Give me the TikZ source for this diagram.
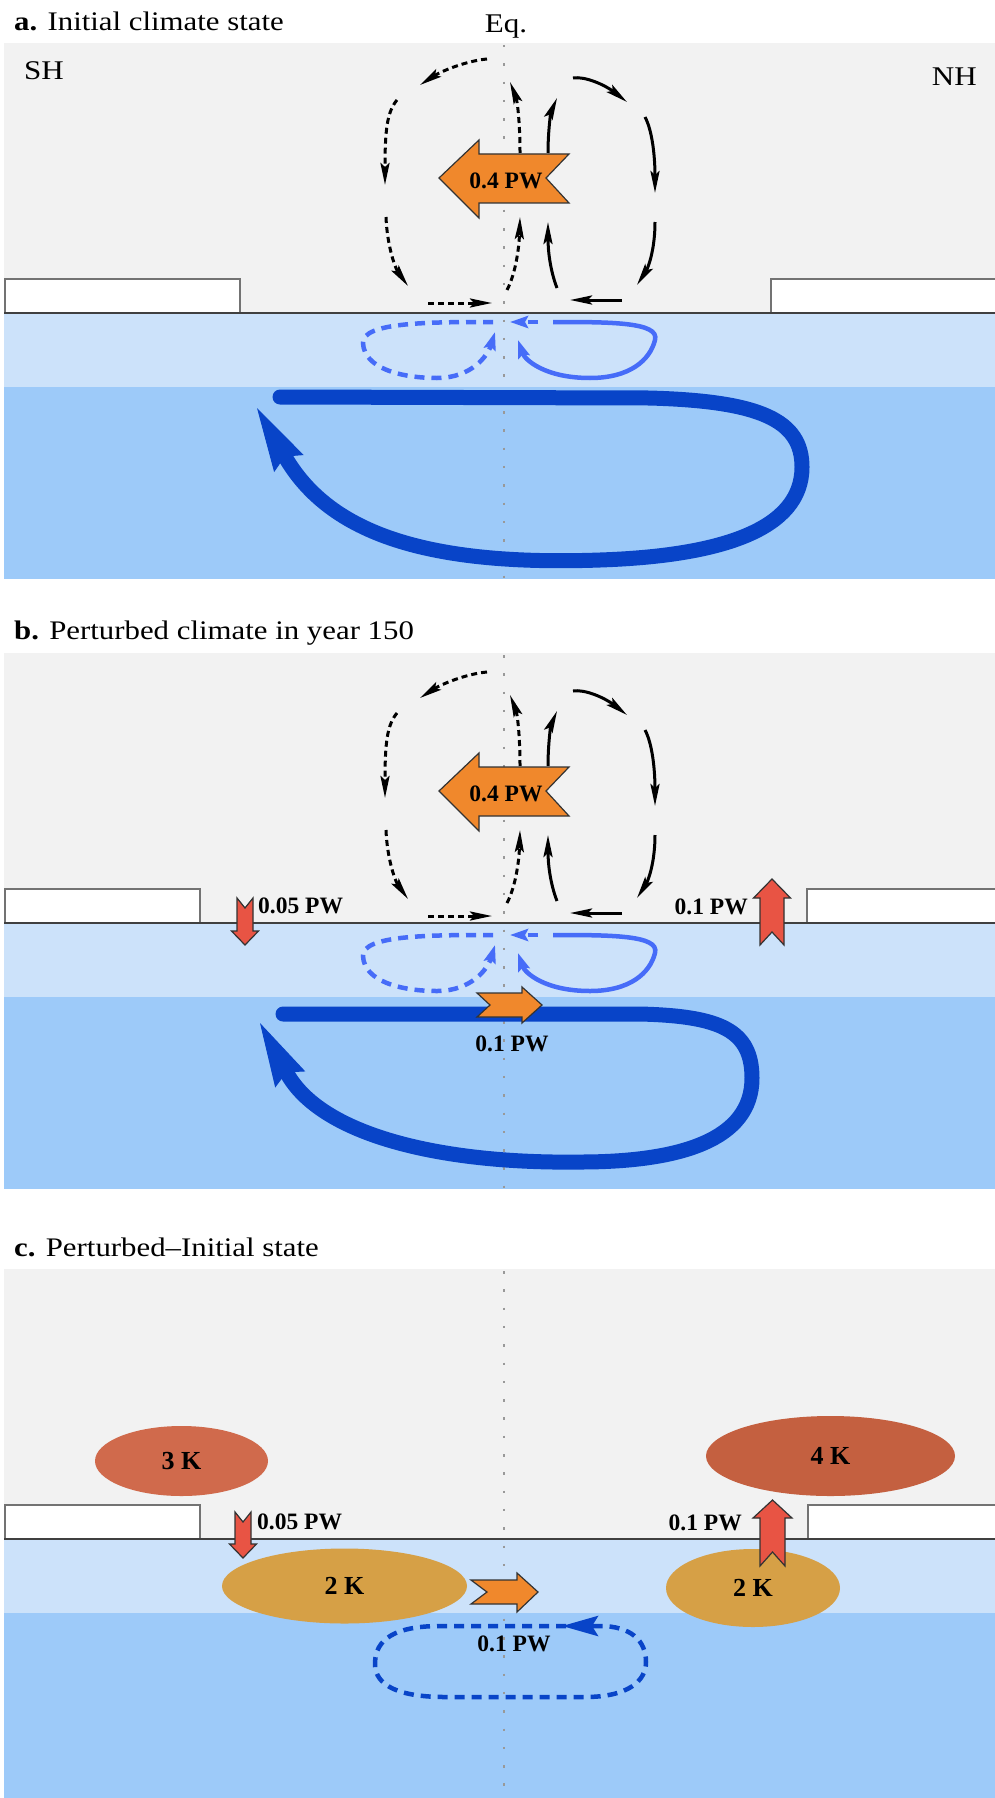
\documentclass[tikz,border=0pt]{standalone}
\usepackage{fontspec}
\setmainfont{Liberation Serif}
\newfontfamily\widefont{Liberation Serif}[FakeStretch=1.15]
\usetikzlibrary{arrows.meta,shapes.geometric}

\definecolor{atmosgray}{HTML}{F2F2F2}
\definecolor{upperocean}{HTML}{CCE2FA}
\definecolor{deepocean}{HTML}{9DCAF9}
\definecolor{amocblue}{HTML}{0844C8}
\definecolor{stcblue}{HTML}{466CF8}
\definecolor{heatorange}{HTML}{F0882C}
\definecolor{fluxred}{HTML}{E85444}
\definecolor{warmthree}{HTML}{D06A4C}
\definecolor{warmfour}{HTML}{C46040}
\definecolor{warmtwo}{HTML}{D6A046}

\begin{document}
\begin{tikzpicture}[x=1pt, y=-1pt,
  hdr/.style={anchor=base west, inner sep=0pt, font=\widefont\fontsize{26.8}{30}\selectfont},
  geo/.style={inner sep=0pt, font=\widefont\fontsize{27}{31}\selectfont},
  pwlabel/.style={inner sep=0pt, font=\fontsize{23.5}{27}\selectfont\bfseries},
  blob/.style={ellipse, inner sep=0pt, font=\fontsize{26}{30}\selectfont\bfseries},
  cellsolid/.style={line width=3pt, -{Stealth[length=22pt,width=9pt,inset=4pt]}},
  celldash/.style={cellsolid, dash pattern=on 6pt off 4pt},
  stcsolid/.style={draw=stcblue, line width=4.5pt, -{Stealth[length=18pt,width=12pt,inset=3pt]}},
  stcdash/.style={stcsolid, dash pattern=on 10pt off 7pt},
  amoc/.style={draw=amocblue, line width=15pt, line cap=round,
    -{Stealth[length=64pt,width=34pt,inset=8pt,line width=1pt]}},
  fluxarrow/.style={draw=black!80, line width=1.2pt, line join=miter},
  eqline/.style={draw=black!40, line width=2.5pt, dash pattern=on 2.5pt off 15.8pt}]
  \useasboundingbox (0,0) rectangle (995,1798);
  \foreach \py/\lw/\rw/\db in {0/240/771/579, 610/200/807/579, 1226/200/808/572}{
    \begin{scope}[shift={(0,\py)}]
      \fill[atmosgray] (4,43) rectangle (995,313);
      \fill[upperocean] (4,313) rectangle (995,387);
      \fill[deepocean] (4,387) rectangle (995,\db);
      \draw[fill=white, draw=black!55, line width=1.5pt] (5,279) rectangle (\lw,313);
      \fill[white] (\rw,279) rectangle (995,313);
      \draw[black!55, line width=1.5pt] (995,279) -- (\rw,279) -- (\rw,313);
      \draw[black!75, line width=2pt] (4,313) -- (995,313);
      \draw[eqline] (504,45) -- (504,\db);
    \end{scope}
  }
  \node[hdr] (titlea) at (14,31) {\textbf{a.} Initial climate state};
  \node[hdr] (titleb) at (14,639) {\textbf{b.} Perturbed climate in year 150};
  \node[hdr] (titlec) at (14,1256) {\textbf{c.} Perturbed–Initial state};
  \node[geo, anchor=base] (eq) at (506,33) {Eq.};
  \node[geo, anchor=base west] (sh) at (24,80) {SH};
  \node[geo, anchor=base east] (nh) at (977,86) {NH};
  \foreach \py in {0,613}{
    \begin{scope}[shift={(0,\py)}]
      \draw[celldash] (487,59) .. controls (465,61) and (440,72) .. (420,85);
      \draw[celldash] (397,100) .. controls (387,112) and (385,130) .. (385,185);
      \draw[celldash] (386,217) .. controls (387,245) and (395,268) .. (408,286);
      \draw[celldash] (428,303) -- (492,303);
      \draw[celldash] (507,290) .. controls (515,275) and (519,250) .. (520,217);
      \draw[celldash] (520,153) .. controls (520,120) and (517,100) .. (510,82);
      \draw[cellsolid] (557,288) .. controls (550,270) and (548,250) .. (548,222);
      \draw[cellsolid] (548,153) .. controls (548,130) and (551,112) .. (557,98);
      \draw[cellsolid] (573,78) .. controls (585,76) and (605,85) .. (627,102);
      \draw[cellsolid] (645,117) .. controls (652,130) and (655,155) .. (655,193);
      \draw[cellsolid] (655,222) .. controls (655,250) and (648,268) .. (637,285);
      \draw[cellsolid] (622,300) -- (570,300);
      \draw[fluxarrow, fill=heatorange] (439,178) -- (479,140) -- (479,154) -- (569,154)
        -- (546,178) -- (569,203) -- (479,203) -- (479,218) -- cycle;
      \node[pwlabel] (heat\py) at (506,181) {0.4 PW};
      \draw[stcdash] (493,322) .. controls (430,322) and (362,322) .. (363,343)
        .. controls (364,368) and (400,378) .. (437,378)
        .. controls (472,378) and (488,355) .. (495,332);
      \draw[stcdash] (538,322) -- (510,322);
      \draw[stcsolid] (553,322) .. controls (610,322) and (660,322) .. (655,340)
        .. controls (650,360) and (630,378) .. (590,378)
        .. controls (545,378) and (525,360) .. (518,340);
    \end{scope}
  }
  \draw[amoc] (280,397) -- (649,398) .. controls (760,401) and (802,420) .. (802,467)
    .. controls (802,530) and (720,556) .. (600,560)
    .. controls (430,566) and (330,535) .. (257,408);
  \begin{scope}[shift={(0,610)}]
    \draw[amoc] (283,404) -- (640,404) .. controls (720,406) and (752,420) .. (752,468)
      .. controls (752,530) and (680,552) .. (580,552)
      .. controls (440,554) and (320,525) .. (260,413);
    \draw[fluxarrow, fill=heatorange] (477,383) -- (522,383) -- (522,377) -- (542,395)
      -- (522,413) -- (522,407) -- (477,407) -- (490,395) -- cycle;
    \node[pwlabel] (oceanb) at (512,434) {0.1 PW};
    \draw[fluxarrow, fill=fluxred] (237,288) -- (245,298) -- (253,288) -- (253,321)
      -- (258.5,321) -- (245,335) -- (231.5,321) -- (237,321) -- cycle;
    \node[pwlabel, anchor=west] (sfluxb) at (258,296) {0.05 PW};
    \draw[fluxarrow, fill=fluxred] (772,269) -- (790.5,288) -- (784,288) -- (784,335)
      -- (772,322) -- (760,335) -- (760,288) -- (753.5,288) -- cycle;
    \node[pwlabel, anchor=east] (nfluxb) at (748,297) {0.1 PW};
  \end{scope}
  \begin{scope}[shift={(0,1226)}]
    \node[blob, fill=warmthree, minimum width=173pt, minimum height=70pt] (atmsh) at (181.5,235) {3 K};
    \node[blob, fill=warmfour, minimum width=249pt, minimum height=80pt] (atmnh) at (830.5,230) {4 K};
    \node[blob, fill=warmtwo, minimum width=245pt, minimum height=75pt] (ocnsh) at (344.5,360) {2 K};
    \node[blob, fill=warmtwo, minimum width=174pt, minimum height=78pt] (ocnnh) at (753,362) {2 K};
    \draw[amocblue, line width=4.5pt, dash pattern=on 10pt off 7pt] (600,400) -- (440,400)
      .. controls (385,400) and (375,420) .. (375,438)
      .. controls (375,460) and (400,471) .. (445,471) -- (585,471)
      .. controls (628,471) and (646,455) .. (646,436)
      .. controls (646,414) and (630,400) .. (600,400);
    \draw[amocblue, line width=4.5pt, -{Stealth[length=36pt,width=20pt,inset=6pt]}] (600,400) -- (562,400);
    \node[pwlabel] (oceanc) at (514,418) {0.1 PW};
    \draw[fluxarrow, fill=heatorange] (471,354) -- (517,354) -- (517,347) -- (538,366)
      -- (517,386) -- (517,378) -- (471,378) -- (487,366) -- cycle;
    \draw[fluxarrow, fill=fluxred] (235,286) -- (243,296) -- (251,286) -- (251,318)
      -- (256.5,318) -- (243,332) -- (229.5,318) -- (235,318) -- cycle;
    \node[pwlabel, anchor=west] (sfluxc) at (257,296) {0.05 PW};
    \draw[fluxarrow, fill=fluxred] (772.5,274) -- (792,292) -- (785,292) -- (785,340)
      -- (772.5,326) -- (760,340) -- (760,292) -- (753,292) -- cycle;
    \node[pwlabel, anchor=east] (nfluxc) at (742,297) {0.1 PW};
  \end{scope}
\end{tikzpicture}
\end{document}
